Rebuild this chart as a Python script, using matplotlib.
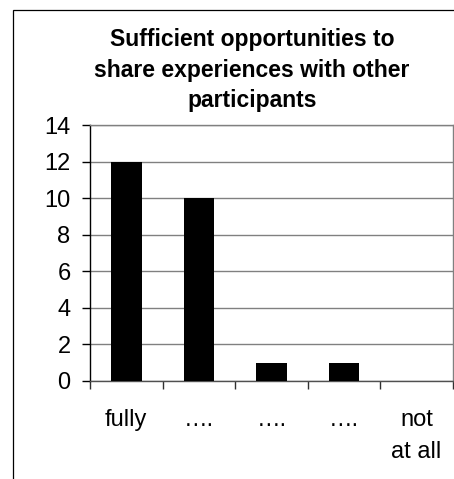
import matplotlib
matplotlib.use("Agg")
import matplotlib.pyplot as plt
from matplotlib.patches import Rectangle

plt.rcParams['font.family'] = ['Liberation Sans', 'DejaVu Sans']

categories = ["fully", "\u2026.", "\u2026.", "\u2026.", "not\nat all"]
counts = [12, 10, 1, 1, 0]
yticks = [0, 2, 4, 6, 8, 10, 12, 14]
title_lines = ["Sufficient opportunities to",
               "share experiences with other",
               "participants"]

W, H = 454, 479
fig = plt.figure(figsize=(W / 100, H / 100), dpi=100)

# outer chart frame (left and top edges visible)
fig.patches.append(Rectangle((13 / W, -0.1), 1.2, 1 - 10 / H + 0.1,
                             transform=fig.transFigure, fill=False,
                             edgecolor='black', linewidth=0.9))

ax = fig.add_axes([90 / W, (H - 380.8) / H, (452.7 - 90) / W, (380.8 - 125.3) / H])

x = list(range(len(categories)))
ax.bar(x, counts, width=0.42, color='black', zorder=3)

ax.set_xlim(-0.5, len(categories) - 0.5)
ax.set_ylim(0, 14)
ax.set_yticks(yticks)
ax.set_yticklabels([str(v) for v in yticks])
ax.yaxis.grid(True, color='#808080', linewidth=1.0, zorder=0)

# category boundaries as tick marks
ax.set_xticks([i - 0.5 for i in range(len(categories) + 1)])
ax.set_xticklabels([])
ax.set_xticks(x, minor=True)
ax.set_xticklabels(categories, minor=True, fontsize=17, linespacing=1.6)
ax.tick_params(axis='x', which='minor', length=0, pad=20)
ax.tick_params(axis='x', which='major', length=6, width=1, color='#303030', direction='out')
ax.tick_params(axis='y', length=6, width=1, color='black', direction='out',
               labelsize=17, pad=8)

for side in ('top', 'right'):
    ax.spines[side].set_color('#808080')
    ax.spines[side].set_linewidth(1.0)
ax.spines['left'].set_color('black')
ax.spines['left'].set_linewidth(1.0)
ax.spines['bottom'].set_color('#505050')
ax.spines['bottom'].set_linewidth(1.0)

baselines = [46, 77, 107]
for line, yb in zip(title_lines, baselines):
    fig.text(252 / W, (H - yb) / H, line, ha='center', va='baseline',
             fontsize=16.5, fontweight='bold')

fig.savefig("out.png", dpi=100)
